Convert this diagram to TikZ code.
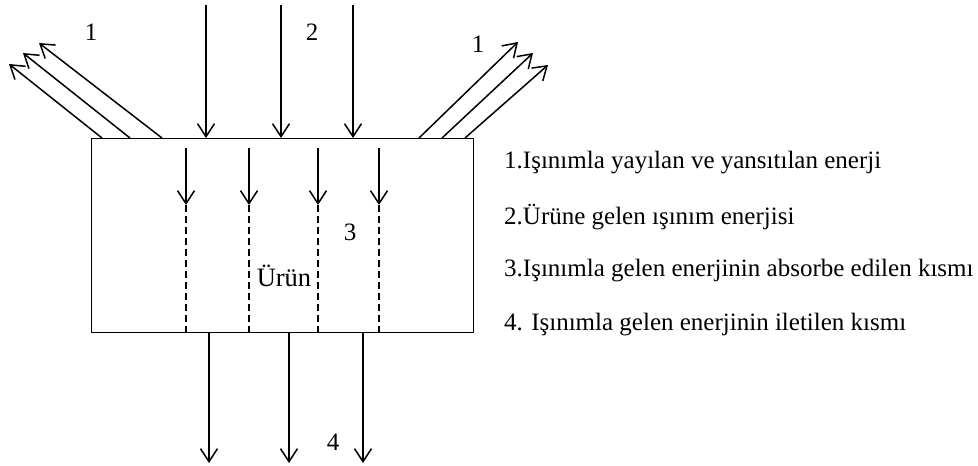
\documentclass[tikz,border=0pt]{standalone}
\usepackage{fontspec}
\setmainfont{Liberation Serif}
\usetikzlibrary{arrows.meta}
\begin{document}
\begin{tikzpicture}[x=1pt,y=-1pt,
  ray/.style={line width=1.5pt,-{Straight Barb[length=13pt,width=17pt]}},
  cut/.style={line width=1.1pt,dash pattern=on 7pt off 4pt},
  num/.style={font=\fontsize{25}{27}\selectfont,inner sep=0pt},
  legend/.style={font=\fontsize{25}{28}\selectfont,anchor=west,inner sep=0pt}]
\useasboundingbox (0,0) rectangle (978,466);

% the product block
\node[draw,line width=1.3pt,minimum width=382pt,minimum height=194pt,
      inner sep=0pt,anchor=north west] (box) at (91,138) {};

% incoming radiation (2)
\foreach \x [count=\i] in {206,281,353} {
  \coordinate (in\i) at (\x,5);
  \draw[ray] (in\i) -- (in\i |- box.north);
}
\node[num] (l2) at (312,32) {2};

% reflected / emitted radiation (1), left side
\coordinate (ls1) at (102,138); \coordinate (lt1) at (9,64);
\coordinate (ls2) at (130,138); \coordinate (lt2) at (23,53);
\coordinate (ls3) at (162,138); \coordinate (lt3) at (39,43);
\foreach \i in {1,2,3} \draw[ray] (ls\i) -- (lt\i);
\node[num] (l1a) at (91,32) {1};

% reflected / emitted radiation (1), right side
\coordinate (rs1) at (419,138); \coordinate (rt1) at (518,42);
\coordinate (rs2) at (442,138); \coordinate (rt2) at (533,53);
\coordinate (rs3) at (465,138); \coordinate (rt3) at (548,65);
\foreach \i in {1,2,3} \draw[ray] (rs\i) -- (rt\i);
\node[num] (l1b) at (478,44) {1};

% absorbed part (3) inside the product
\foreach \x [count=\i] in {186,249,318,379} {
  \coordinate (ab\i) at (\x,148);
  \coordinate (ae\i) at (\x,205);
  \draw[ray] (ab\i) -- (ae\i);
  \draw[cut] (ae\i) -- (ae\i |- box.south);
}
\node[num] (l3) at (350,232) {3};
\node[num,font=\fontsize{26.5}{28}\selectfont] (urun) at (284,276) {Ürün};

% transmitted part (4)
\foreach \x [count=\i] in {209,289,363} {
  \coordinate (tr\i) at (\x,463);
  \draw[ray] (tr\i |- box.south) -- (tr\i);
}
\node[num] (l4) at (333,442) {4};

% legend
\node[legend] (k1) at (504,163) {1.Işınımla yayılan ve yansıtılan enerji};
\node[legend] (k2) at (504,217) {2.Ürüne gelen ışınım enerjisi};
\node[legend] (k3) at (504,271) {3.Işınımla gelen enerjinin absorbe edilen kısmı};
\node[legend] (k4) at (504,325) {4. Işınımla gelen enerjinin iletilen kısmı};
\end{tikzpicture}
\end{document}
